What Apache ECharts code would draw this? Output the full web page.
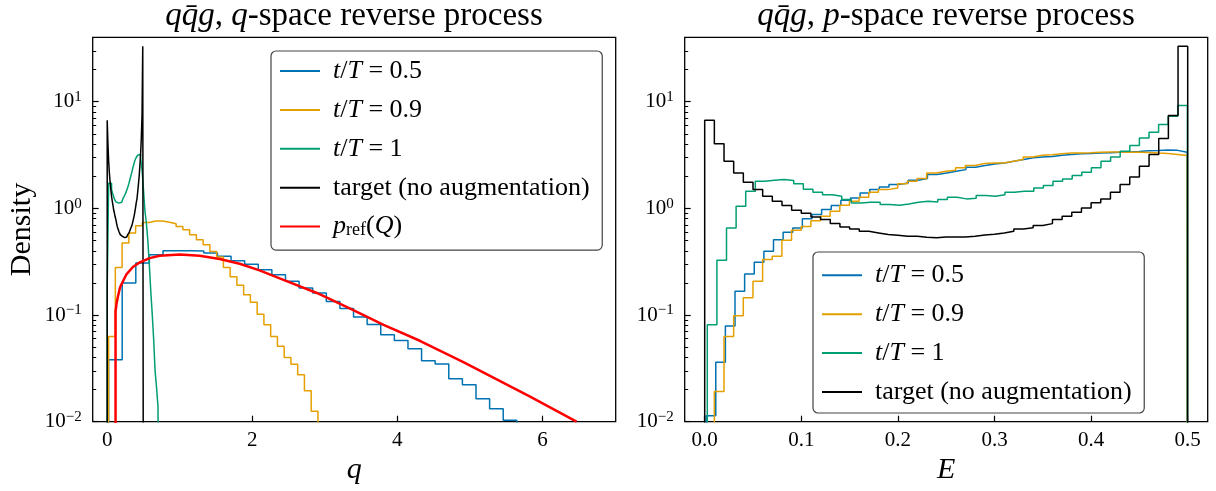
<!DOCTYPE html>
<html>
<head>
<meta charset="utf-8">
<script src="https://cdn.jsdelivr.net/npm/echarts@6.0.0/dist/echarts.min.js"></script>
<style>
html,body{margin:0;padding:0;background:#fff;}
#chart{width:1216px;height:491px;}
</style>
</head>
<body>
<div id="chart"></div>
<script>
// ================= DATA =================
// Target (no augmentation): same histogram in both panels, bins of 0.01 on [0, 0.5]
const targetBinStart = 0;
const targetBinWidth = 0.01;
const targetDensity = [6.7, 4.03, 2.77, 2.15, 1.76, 1.50, 1.30, 1.167, 1.062, 0.96,
  0.90, 0.83, 0.785, 0.72, 0.67, 0.641, 0.61, 0.589, 0.568, 0.56,
  0.547, 0.547, 0.536, 0.532, 0.54, 0.54, 0.54, 0.547, 0.564, 0.571,
  0.589, 0.61, 0.641, 0.66, 0.69, 0.72, 0.785, 0.843, 0.919, 1.01,
  1.127, 1.228, 1.416, 1.672, 1.97, 2.48, 3.2, 4.52, 7.43, 33.2];

// Left panel (q-space)
const qBlueBinStart = 0.019;
const qBlueBinWidth = 0.1876;
const qBlueDensity = [0.038, 0.2, 0.307, 0.367, 0.40, 0.40, 0.398, 0.381, 0.355, 0.323,
  0.30, 0.266, 0.239, 0.207, 0.179, 0.161, 0.134, 0.115, 0.0957, 0.0815,
  0.0654, 0.0578, 0.0483, 0.0373, 0.0347, 0.0253, 0.0222, 0.0164, 0.0132, 0.0103];

const qOrangeBinStart = 0.019;
const qOrangeBinWidth = 0.0931;
const qOrangeDensity = [0.063, 0.279, 0.473, 0.587, 0.687, 0.738, 0.76, 0.76, 0.74, 0.718,
  0.676, 0.629, 0.566, 0.508, 0.456, 0.395, 0.35, 0.279, 0.229, 0.19,
  0.155, 0.132, 0.102, 0.081, 0.063, 0.051, 0.040, 0.0345, 0.0275, 0.0195,
  0.0125];

const qGreenBinStart = 0;
const qGreenBinWidth = 0.02;
const qGreenDensity = [0.18, 1.72, 1.72, 1.5, 1.35, 1.22, 1.15, 1.12, 1.12, 1.14,
  1.18, 1.25, 1.32, 1.42, 1.55, 1.72, 1.95, 2.2, 2.5, 2.8,
  3.0, 3.15, 3.2, 3.0, 2.3, 1.5, 0.95, 0.73, 0.5, 0.3,
  0.17, 0.104, 0.06, 0.03, 0.021, 0.014];

const refCurveQ = [0.115, 0.115, 0.13, 0.148, 0.175, 0.193, 0.262, 0.354, 0.447, 0.585,
  0.723, 1.0, 1.274, 1.55, 1.826, 2.10, 2.43, 2.89, 3.35, 3.81,
  4.31, 4.91, 5.83, 6.47];
const refCurveDensity = [0.0001, 0.108, 0.13, 0.149, 0.179, 0.192, 0.239, 0.282, 0.311, 0.342,
  0.36, 0.37, 0.36, 0.335, 0.303, 0.262, 0.214, 0.161, 0.115, 0.081,
  0.0574, 0.0362, 0.0172, 0.01];

// Right panel (p-space)
const eBlueBinStart = 0.0015;
const eBlueBinWidth = 0.00996;
const eBlueDensity = [0.0114, 0.036, 0.079, 0.167, 0.243, 0.312, 0.396, 0.509, 0.597, 0.655,
  0.80, 0.875, 0.975, 1.062, 1.19, 1.253, 1.397, 1.50, 1.59, 1.672,
  1.733, 1.835, 1.905, 2.076, 2.15, 2.23, 2.31, 2.43, 2.52, 2.61,
  2.67, 2.77, 2.87, 2.98, 3.04, 3.06, 3.15, 3.2, 3.25, 3.27,
  3.3, 3.33, 3.36, 3.38, 3.42, 3.47, 3.49, 3.52, 3.5, 3.36];

const eOrangeBinStart = 0;
const eOrangeBinWidth = 0.00999;
const eOrangeDensity = [0.005, 0.0192, 0.063, 0.0987, 0.145, 0.207, 0.331, 0.355, 0.502, 0.623,
  0.675, 0.765, 0.843, 0.94, 1.07, 1.167, 1.27, 1.416, 1.50, 1.556,
  1.70, 1.796, 1.905, 2.15, 2.23, 2.28, 2.40, 2.52, 2.63, 2.67,
  2.67, 2.77, 2.87, 3.04, 3.15, 3.18, 3.25, 3.3, 3.31, 3.33,
  3.36, 3.38, 3.38, 3.36, 3.36, 3.35, 3.3, 3.27, 3.2, 3.13];

const eGreenBinStart = 0.0027;
const eGreenBinWidth = 0.00994;
const eGreenDensity = [0.081, 0.326, 0.656, 1.047, 1.446, 1.796, 1.84, 1.87, 1.83, 1.70,
  1.51, 1.42, 1.345, 1.30, 1.21, 1.125, 1.14, 1.14, 1.086, 1.07,
  1.10, 1.14, 1.167, 1.15, 1.21, 1.27, 1.228, 1.245, 1.318, 1.30,
  1.345, 1.416, 1.445, 1.445, 1.556, 1.64, 1.80, 1.89, 2.03, 2.18,
  2.40, 2.77, 3.04, 3.43, 3.88, 4.58, 5.17, 6.11, 7.31, 9.2];

// Tick labels
const qTicks = [0, 2, 4, 6];
const eTicks = [0, 0.1, 0.2, 0.3, 0.4, 0.5];

const seriesNames = ['t/T = 0.5', 't/T = 0.9', 't/T = 1', 'target (no augmentation)', 'p_ref(Q)'];

// ================= STYLE =================
const FONT = 'Liberation Serif';
const C_BLUE = '#0072B2', C_ORANGE = '#E69F00', C_GREEN = '#009E73', C_BLACK = '#000000', C_RED = '#FF0000';
const Y_MIN = 0.01, Y_MAX = 40.2;

// histogram outline (matplotlib histtype="step"): edges + densities -> step path
function histPath(start, width, dens) {
  const floor = 1e-4;
  const pts = [[start, floor]];
  dens.forEach((d, i) => pts.push([start + i * width, d]));
  const end = start + dens.length * width;
  pts.push([end, dens[dens.length - 1]]);
  pts.push([end, floor]);
  return pts;
}
function histSeries(name, color, start, width, dens, xi, yi) {
  return {
    name, type: 'line', xAxisIndex: xi, yAxisIndex: yi,
    data: histPath(start, width, dens), step: 'end',
    symbol: 'none', showSymbol: false, color,
    lineStyle: { color, width: 1.5 }, clip: true, silent: true,
    emphasis: { disabled: true }, animation: false
  };
}

const minorLogs = [];
for (let e = -2; e <= 1; e++) {
  for (let m = 2; m <= 9; m++) {
    const v = Math.log10(m) + e;
    if (v < Math.log10(Y_MAX)) minorLogs.push(v);
  }
}

const labelRich = {
  b: { fontFamily: FONT, fontSize: 21, color: '#000', lineHeight: 24 },
  s: { fontFamily: FONT, fontSize: 15, color: '#000', verticalAlign: 'top', lineHeight: 12 }
};
function decadeLabel(v) {
  const e = Math.round(Math.log10(v));
  return '{b|10}{s|' + (e < 0 ? '\u2212' + (-e) : e) + '}';
}

const gridTop = 37.3, gridH = 384.4, gridW = 523;
function mkGrid(left) {
  return { left, top: gridTop, width: gridW, height: gridH, show: true,
    borderColor: '#000', borderWidth: 1.3, backgroundColor: 'transparent', outerBoundsMode: 'none' };
}
function mkX(gi, min, max, ticks, fmt, name) {
  return {
    gridIndex: gi, type: 'value', min, max,
    axisLine: { show: false, onZero: false },
    splitLine: { show: false },
    axisTick: { show: true, inside: true, length: 6, customValues: ticks, lineStyle: { color: '#000', width: 1.2 } },
    axisLabel: { customValues: ticks, color: '#000', fontFamily: FONT, fontSize: 21, margin: 8, formatter: fmt },
    name, nameLocation: 'middle', nameGap: 24,
    nameTextStyle: { fontFamily: FONT, fontStyle: 'italic', fontSize: 30, color: '#000' }
  };
}
function mkYLog(gi, withName) {
  const ax = {
    gridIndex: gi, type: 'log', logBase: 10, min: Y_MIN, max: Y_MAX, position: 'left',
    axisLine: { show: false, onZero: false },
    splitLine: { show: false },
    axisTick: { show: true, inside: true, length: 6, lineStyle: { color: '#000', width: 1.2 } },
    axisLabel: { color: '#000', margin: 11, formatter: decadeLabel, rich: labelRich, showMaxLabel: false, showMinLabel: true }
  };
  if (withName) {
    ax.name = 'Density';
    ax.nameLocation = 'middle';
    ax.nameGap = 56;
    ax.nameTextStyle = { fontFamily: FONT, fontSize: 30, color: '#000' };
  }
  return ax;
}
function mkYMinor(gi) {
  return {
    gridIndex: gi, type: 'value', min: -2, max: Math.log10(Y_MAX), position: 'left', offset: 0,
    axisLine: { show: false, onZero: false },
    splitLine: { show: false },
    axisLabel: { show: false },
    axisTick: { show: true, inside: true, length: 3.5, customValues: minorLogs, lineStyle: { color: '#000', width: 1 } }
  };
}

const legendRich = {
  g: { width: 8, fontSize: 26, lineHeight: 26 },
  i: { fontFamily: FONT, fontStyle: 'italic', fontSize: 26, color: '#000', lineHeight: 26 },
  r: { fontFamily: FONT, fontSize: 26, color: '#000', lineHeight: 26 },
  sub: { fontFamily: FONT, fontSize: 18, color: '#000', verticalAlign: 'bottom', lineHeight: 16 }
};
function legendText(name) {
  if (name.startsWith('t/T')) return '{g| }{i|t}{r|/}{i|T}{r|' + name.slice(3) + '}';
  if (name === 'p_ref(Q)') return '{g| }{i|p}{sub|ref}{r|(}{i|Q}{r|)}';
  return '{g| }{r|' + name + '}';
}
function mkLegend(left, top, names, pad) {
  return {
    orient: 'vertical', left, top, data: names, selectedMode: false,
    icon: 'rect', itemWidth: 40, itemHeight: 2, itemGap: 12.9,
    padding: pad, borderColor: '#444', borderWidth: 1.2, borderRadius: 5,
    backgroundColor: '#fff', formatter: legendText,
    textStyle: { fontFamily: FONT, fontSize: 26, color: '#000', rich: legendRich }
  };
}

const titleRich = {
  i: { fontFamily: FONT, fontStyle: 'italic', fontWeight: 'normal', fontSize: 33, color: '#000', lineHeight: 30 },
  r: { fontFamily: FONT, fontWeight: 'normal', fontSize: 33, color: '#000', lineHeight: 30 }
};

const option = {
  animation: false,
  backgroundColor: '#fff',
  textStyle: { fontFamily: FONT },
  title: [
    { left: 354, top: 1, padding: 0, textAlign: 'center',
      text: '{i|qq\u0304g}{r|, }{i|q}{r|-space reverse process}',
      textStyle: { fontWeight: 'normal', fontSize: 33, rich: titleRich } },
    { left: 946, top: 1, padding: 0, textAlign: 'center',
      text: '{i|qq\u0304g}{r|, }{i|p}{r|-space reverse process}',
      textStyle: { fontWeight: 'normal', fontSize: 33, rich: titleRich } }
  ],
  legend: [
    mkLegend(271, 51, seriesNames, [7, 12.7, 10.5, 9]),
    mkLegend(813, 252, seriesNames.slice(0, 4), [10.3, 12.7, 8, 9])
  ],
  grid: [mkGrid(92.7), mkGrid(684.7)],
  xAxis: [
    mkX(0, -0.2, 7.01, qTicks, v => String(v), 'q'),
    mkX(1, -0.0207, 0.5207, eTicks, v => Number(v).toFixed(1), 'E')
  ],
  yAxis: [mkYLog(0, true), mkYMinor(0), mkYLog(1, false), mkYMinor(1)],
  series: [
    histSeries(seriesNames[0], C_BLUE, qBlueBinStart, qBlueBinWidth, qBlueDensity, 0, 0),
    histSeries(seriesNames[1], C_ORANGE, qOrangeBinStart, qOrangeBinWidth, qOrangeDensity, 0, 0),
    histSeries(seriesNames[2], C_GREEN, qGreenBinStart, qGreenBinWidth, qGreenDensity, 0, 0),
    histSeries(seriesNames[3], C_BLACK, targetBinStart, targetBinWidth, targetDensity, 0, 0),
    {
      name: seriesNames[4], type: 'line', xAxisIndex: 0, yAxisIndex: 0,
      data: refCurveQ.map((q, i) => [q, refCurveDensity[i]]),
      symbol: 'none', showSymbol: false, color: C_RED,
      lineStyle: { color: C_RED, width: 2.5 }, clip: true, silent: true,
      emphasis: { disabled: true }, animation: false
    },
    histSeries(seriesNames[0], C_BLUE, eBlueBinStart, eBlueBinWidth, eBlueDensity, 1, 2),
    histSeries(seriesNames[1], C_ORANGE, eOrangeBinStart, eOrangeBinWidth, eOrangeDensity, 1, 2),
    histSeries(seriesNames[2], C_GREEN, eGreenBinStart, eGreenBinWidth, eGreenDensity, 1, 2),
    histSeries(seriesNames[3], C_BLACK, targetBinStart, targetBinWidth, targetDensity, 1, 2)
  ]
};

const chart = echarts.init(document.getElementById('chart'), null, { renderer: 'canvas' });
chart.setOption(option);
</script>
</body>
</html>
